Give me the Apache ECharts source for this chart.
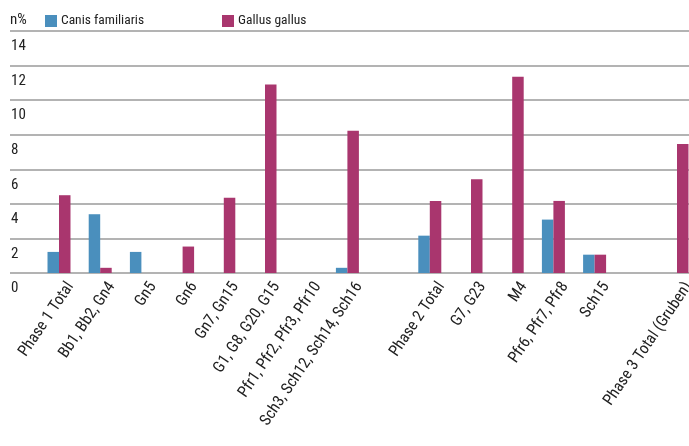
<!DOCTYPE html>
<html>
<head>
<meta charset="utf-8">
<script src="https://cdn.jsdelivr.net/npm/echarts@6/dist/echarts.min.js"></script>
<style>
  html, body { margin: 0; padding: 0; background: #fff; }
  #chart { width: 689px; height: 446px; }
</style>
</head>
<body>
<div id="chart"></div>
<script>
// Kategorien (leere Einträge = Lücken zwischen den Phasen)
const categories = [
  'Phase 1 Total', 'Bb1, Bb2, Gn4', 'Gn5', 'Gn6', 'Gn7, Gn15',
  'G1, G8, G20, G15', 'Pfr1, Pfr2, Pfr3, Pfr10', 'Sch3, Sch12, Sch14, Sch16',
  '',
  'Phase 2 Total', 'G7, G23', 'M4', 'Pfr6, Pfr7, Pfr8', 'Sch15',
  '',
  'Phase 3 Total (Gruben)'
];
const canis = [1.22, 3.4, 1.22, 0, 0, 0, 0, 0.3, null, 2.16, 0, 0, 3.09, 1.06, null, 0];
const gallus = [4.5, 0.3, 0, 1.53, 4.35, 10.9, 0, 8.23, null, 4.17, 5.43, 11.36, 4.17, 1.06, null, 7.46];
const yTicks = [0, 2, 4, 6, 8, 10, 12, 14];

const FONT = "'Roboto Condensed', 'Liberation Sans', sans-serif";
const BLUE = '#4a8fbd';
const MAGENTA = '#a9366e';
const TEXT = '#222';

const chart = echarts.init(document.getElementById('chart'));

const legendText = { fontFamily: FONT, fontSize: 13.5, color: TEXT, padding: [0, 0, 0, -1] };

const option = {
  animation: false,
  textStyle: { fontFamily: FONT, color: TEXT },
  title: {
    text: 'n%', left: 10, top: 13, padding: 0,
    textStyle: { fontFamily: FONT, fontSize: 15, fontWeight: 'normal', color: TEXT }
  },
  legend: [
    {
      data: ['Canis familiaris'], left: 40, top: 9,
      itemWidth: 12, itemHeight: 12, itemGap: 4, icon: 'rect',
      itemStyle: { borderWidth: 0 },
      textStyle: legendText
    },
    {
      data: ['Gallus gallus'], left: 217, top: 9,
      itemWidth: 12, itemHeight: 12, itemGap: 4, icon: 'rect',
      itemStyle: { borderWidth: 0 },
      textStyle: legendText
    }
  ],
  grid: [
    { left: 10, right: 0, top: 31, bottom: 173, outerBoundsMode: 'none' },
    { left: 38.4, right: -8.6, top: 31, bottom: 173, outerBoundsMode: 'none' }
  ],
  xAxis: [
    { type: 'category', gridIndex: 0, data: [''], show: false },
    {
      type: 'category', gridIndex: 1, data: categories,
      axisLine: { show: false }, axisTick: { show: false },
      axisLabel: {
        interval: 0, rotate: 56, margin: 3,
        verticalAlign: 'top', lineHeight: 28,
        fontFamily: FONT, fontSize: 16, color: TEXT
      }
    }
  ],
  yAxis: [
    {
      type: 'value', gridIndex: 0, min: 0, max: 14, interval: 2,
      axisLine: { show: false }, axisTick: { show: false },
      splitLine: { lineStyle: { color: '#9a9a9a', width: 1.5 } },
      axisLabel: {
        inside: true, margin: 0, align: 'left', verticalAlign: 'top',
        padding: [8, 0, 0, 1],
        fontFamily: FONT, fontSize: 15, color: TEXT,
        formatter: v => yTicks.includes(v) ? String(v) : ''
      }
    },
    { type: 'value', gridIndex: 1, min: 0, max: 14, interval: 2, show: false }
  ],
  series: [
    {
      name: 'Canis familiaris', type: 'bar', xAxisIndex: 1, yAxisIndex: 1,
      data: canis, barWidth: 11.5, barGap: '0%',
      itemStyle: { color: BLUE }
    },
    {
      name: 'Gallus gallus', type: 'bar', xAxisIndex: 1, yAxisIndex: 1,
      data: gallus, barWidth: 11.5, barGap: '0%',
      itemStyle: { color: MAGENTA }
    }
  ]
};

chart.setOption(option);
window.addEventListener('resize', () => chart.resize());
</script>
</body>
</html>
